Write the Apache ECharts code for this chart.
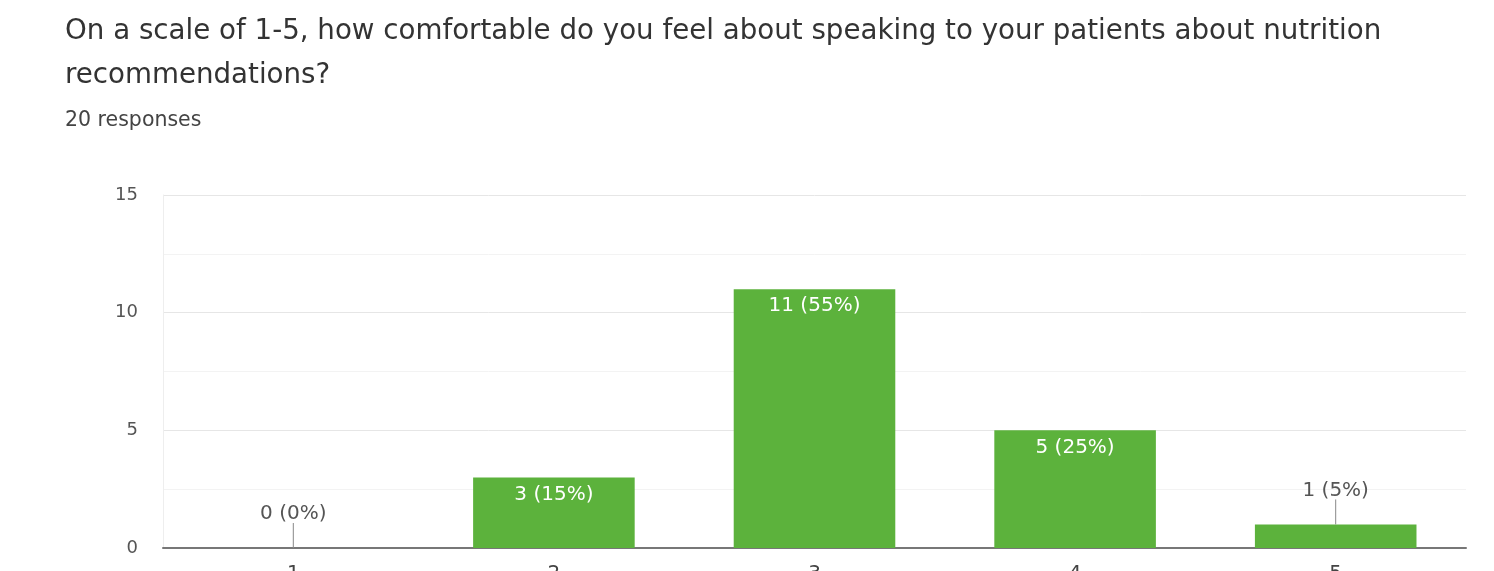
<!DOCTYPE html>
<html><head><meta charset="utf-8">
<script src="https://cdn.jsdelivr.net/npm/echarts@6/dist/echarts.min.js"></script>
<style>html,body{margin:0;padding:0;background:#fff}#c{width:1494px;height:571px}</style>
</head><body><div id="c"></div>
<script>
const titleLines = ["On a scale of 1-5, how comfortable do you feel about speaking to your patients about nutrition", "recommendations?"];
const subtitle = "20 responses";
const categories = ["1", "2", "3", "4", "5"];
const counts = [0, 3, 11, 5, 1];
const percents = [0, 15, 55, 25, 5];
const yTicks = [0, 5, 10, 15];

const chart = echarts.init(document.getElementById('c'));
const green = '#5cb23c';
const FONT = '"DejaVu Sans", sans-serif';
const barData = counts.map((v, i) => {
  const outside = v < 2;
  return {
    value: v,
    label: outside ? {position: 'top', distance: 24, color: '#555'} : {position: 'insideTop', distance: 7, color: '#fff'}
  };
});
chart.setOption({
  animation: false,
  textStyle: {fontFamily: FONT},
  title: {
    text: titleLines.join('\n'),
    subtext: subtitle,
    left: 60, top: 5,
    itemGap: 13,
    textStyle: {fontFamily: FONT, fontSize: 27.7, fontWeight: 'normal', color: '#333', lineHeight: 44},
    subtextStyle: {fontFamily: FONT, fontSize: 20.5, color: '#444', lineHeight: 20}
  },
  grid: {left: 163, right: 28, top: 195, bottom: 23, outerBoundsMode: 'none', containLabel: false},
  xAxis: {
    type: 'category', data: categories,
    axisLine: {lineStyle: {color: '#777', width: 2}},
    axisTick: {show: false},
    axisLabel: {fontSize: 20, color: '#444', margin: 16, fontFamily: FONT},
    splitLine: {show: false}
  },
  yAxis: {
    type: 'value', min: 0, max: 15, interval: 5,
    axisLine: {show: true, lineStyle: {color: '#eee'}},
    axisLabel: {fontSize: 18, color: '#555', margin: 25, fontFamily: FONT,
      formatter: v => yTicks.includes(v) ? String(v) : ''},
    splitLine: {lineStyle: {color: '#e6e6e6'}},
    minorTick: {show: false, splitNumber: 2},
    minorSplitLine: {show: true, lineStyle: {color: '#f3f3f3'}}
  },
  series: [{
    type: 'bar', data: barData, barWidth: '62%',
    itemStyle: {color: green},
    label: {show: true, fontSize: 20, fontFamily: FONT, lineHeight: 20,
      formatter: p => counts[p.dataIndex] + ' (' + percents[p.dataIndex] + '%)'}
  }, {
    type: 'custom',
    data: counts.map((v, i) => [i, v]),
    renderItem: (params, api) => {
      const v = api.value(1);
      if (v >= 2) return null;
      const p = api.coord([api.value(0), v]);
      return {type: 'line', shape: {x1: p[0], y1: p[1], x2: p[0], y2: p[1] - 25},
        style: {stroke: '#888', lineWidth: 1}};
    },
    z: 3
  }, {
    type: 'line', data: [], markLine: {silent: true, symbol: 'none', label: {show: false},
      lineStyle: {color: '#eee', type: 'solid', width: 1},
      data: [{xAxis: 4.5}]}
  }]
});
</script></body></html>
